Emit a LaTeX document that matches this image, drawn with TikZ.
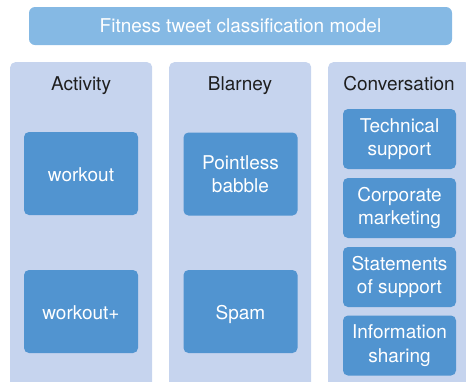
\documentclass[tikz,border=0pt]{standalone}
\usepackage{fontspec}
\setmainfont{TeX Gyre Heros}
\definecolor{titleblue}{RGB}{133,185,228}
\definecolor{columnblue}{RGB}{198,212,238}
\definecolor{boxblue}{RGB}{81,148,208}
\definecolor{headgray}{RGB}{30,30,30}

\begin{document}
\begin{tikzpicture}[x=1pt,y=-1pt,font=\fontsize{19}{23.5}\selectfont,
  titlebar/.style={fill=titleblue,text=white,rounded corners=6pt,minimum width=423pt,minimum height=38pt,inner sep=0pt},
  column/.style={fill=columnblue,rounded corners=5pt,anchor=north west,minimum width=142pt,minimum height=340pt,inner sep=0pt},
  heading/.style={text=headgray,inner sep=0pt,anchor=base},
  bigbox/.style={fill=boxblue,text=white,rounded corners=5pt,align=center,minimum width=114pt,minimum height=83pt,inner sep=0pt},
  oneline/.style={text height=16pt,text depth=0pt},
  smallbox/.style={fill=boxblue,text=white,rounded corners=5pt,align=center,minimum width=113pt,minimum height=60pt,inner sep=0pt}]
  \useasboundingbox (0,0) rectangle (466,381);
  \clip (0,0) rectangle (466,381);
   \node[titlebar] (Title) at (240.5,26) {Fitness tweet classification model};
   % the three columns with their headings
  \foreach \x/\name/\head in {10/Activity/Activity,169/Blarney/Blarney,328/Conversation/Conversation}{%
    \node[column] (\name) at (\x,62) {};
    \node[heading] (\name Head) at (\x+71,90) {\head};
    }
  \node[bigbox,oneline] (Workout) at (81,173.5) {workout};
  \node[bigbox,oneline] (WorkoutPlus) at (81,311.5) {workout+};
  \node[bigbox] (Babble) at (240.5,174) {Pointless\\babble};
  \node[bigbox,oneline] (Spam) at (240.5,311.5) {Spam};
  \foreach \y/\name/\txt in {139/Technical/Technical\\support,208/Corporate/Corporate\\marketing,
      277/Statements/Statements\\of support,345.5/Information/Information\\sharing}{% boxes of the last column
    \node[smallbox] (\name) at (399.5,\y) {\txt};
    }
 \end{tikzpicture}
\end{document}
